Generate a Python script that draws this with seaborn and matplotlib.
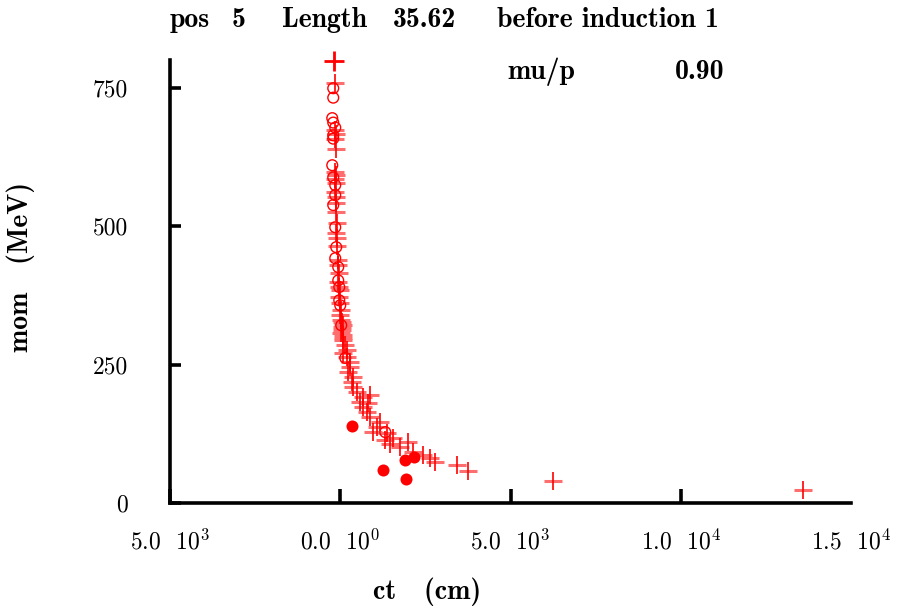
import matplotlib
matplotlib.use("Agg")
import matplotlib.pyplot as plt
import seaborn as sns
import pandas as pd

# ---- data (ct in cm, mom in MeV) ----
cross_ct = [-147, -147, -118, -147, -118, -147, -118, -147, -118, -147, -118,
            -118, -118, -88, -118, -88, -88, -59, -59, -29, -59, -29, 0, -29, 0,
            29, 0, 29, 59, 29, 88,
            59, 88, 59, 88, 88, 147, 206, 88, 206, 294, 294, 235, 382, 353, 382,
            500, 676, 588, 676, 794, 882, 1176, 1088, 1382,
            882, 823, 970, 1558, 1323, 1999, 1470, 1764, 2146, 2440, 2646, 2793,
            3440, 3763, 6262, 13583]
cross_mom = [758, 673, 667, 658, 640, 597, 592, 586, 577, 561, 552,
             541, 525, 505, 487, 478, 465, 438, 429, 415, 399, 390, 384, 372, 361,
             348, 339, 330, 318, 307, 298,
             327, 321, 312, 303, 294, 285, 276, 271, 263, 254, 245, 236, 227, 218, 209,
             200, 191, 182, 173, 164, 155, 146, 137, 126,
             195, 180, 128, 117, 114, 110, 106, 101, 92, 87, 81, 74,
             69, 58, 40, 23]

circle_ct = [-206, -206, -235, -206, -147, -206, -206, -235, -206, -147, -147,
             -206, -147, -118, -147, -59, -59, -29, -29, 0, 29, 147, 1323]
circle_mom = [749, 732, 695, 687, 678, 664, 658, 610, 588, 574, 556,
              538, 498, 462, 442, 426, 402, 390, 366, 357, 321, 262, 128]

dot_ct = [353, 1264, 1911, 2176, 1940]
dot_mom = [139, 60, 78, 83, 43]

bold_ct = [-176]
bold_mom = [799]

xticks = [-5000, 0, 5000, 10000, 15000]
xtick_labels = [r"5.0  $10^{3}$", r"0.0  $10^{0}$", r"5.0  $10^{3}$",
                r"1.0  $10^{4}$", r"1.5  $10^{4}$"]
yticks = [0, 250, 500, 750]
ytick_labels = ["0", "250", "500", "750"]

title_parts = ["pos", "5", "Length", "35.62", "before induction 1"]
xlabel = "ct   (cm)"
ylabel = "mom   (MeV)"
note_label = "mu/p"
note_value = "0.90"

# ---- style ----
sns.set_style("white")
plt.rcParams["font.family"] = ["cmr10", "DejaVu Serif"]
plt.rcParams["mathtext.fontset"] = "cm"
plt.rcParams["axes.unicode_minus"] = False

RED = "#ff0000"
LIGHT = "#ff6e6e"
FS = 17
BFS = 20

fig = plt.figure(figsize=(8.99, 6.08), dpi=100)
ax = fig.add_axes([170 / 899, 1 - 503 / 608, (851 - 170) / 899, (503 - 60) / 608])

cross_df = pd.DataFrame({"ct": cross_ct, "mom": cross_mom})
circle_df = pd.DataFrame({"ct": circle_ct, "mom": circle_mom})
dot_df = pd.DataFrame({"ct": dot_ct, "mom": dot_mom})
bold_df = pd.DataFrame({"ct": bold_ct, "mom": bold_mom})

sns.scatterplot(data=cross_df, x="ct", y="mom", marker="_", s=170,
                color=LIGHT, linewidth=2.2, ax=ax, zorder=3)
sns.scatterplot(data=cross_df, x="ct", y="mom", marker="|", s=170,
                color=RED, linewidth=1.2, ax=ax, zorder=4)
sns.scatterplot(data=circle_df, x="ct", y="mom", marker="o", s=60,
                facecolor="none", edgecolor=RED, linewidth=1.0, ax=ax, zorder=5)
sns.scatterplot(data=dot_df, x="ct", y="mom", marker="o", s=75,
                color=RED, edgecolor=RED, linewidth=0, ax=ax, zorder=5)
sns.scatterplot(data=bold_df, x="ct", y="mom", marker="+", s=200,
                color=RED, linewidth=2.0, ax=ax, zorder=6, clip_on=False)

ax.set_xlim(-5000, 15000)
ax.set_ylim(0, 800)
ax.set_xticks(xticks, labels=xtick_labels)
ax.set_yticks(yticks, labels=ytick_labels)
ax.tick_params(axis="x", bottom=True, direction="in", length=10, width=2.6,
               pad=19, labelsize=FS, colors="black")
ax.tick_params(axis="y", left=True, direction="in", length=8, width=2.6,
               pad=30, labelsize=FS, colors="black")
ax.xaxis.get_major_ticks()[-1].tick1line.set_visible(False)
for s in ["top", "right"]:
    ax.spines[s].set_visible(False)
for s in ["left", "bottom"]:
    ax.spines[s].set_linewidth(2.6)
    ax.spines[s].set_color("black")
ax.set_xlabel("")
ax.set_ylabel("")
ax.grid(False)

bold = dict(family=["cmb10", "DejaVu Serif"], fontsize=BFS, color="black")
title_x = [170, 232, 282, 393, 497]
for word, px in zip(title_parts, title_x):
    fig.text(px / 899, 1 - 20 / 608, word, ha="left", va="center", **bold)
fig.text(427 / 899, 1 - 592 / 608, xlabel, ha="center", va="center", **bold)
fig.text(21 / 899, 1 - 267 / 608, ylabel, ha="center", va="center",
         rotation=90, **bold)
fig.text(541 / 899, 1 - 72 / 608, note_label, ha="center", va="center", **bold)
fig.text(700 / 899, 1 - 72 / 608, note_value, ha="center", va="center", **bold)

fig.savefig("out.png", dpi=100)
